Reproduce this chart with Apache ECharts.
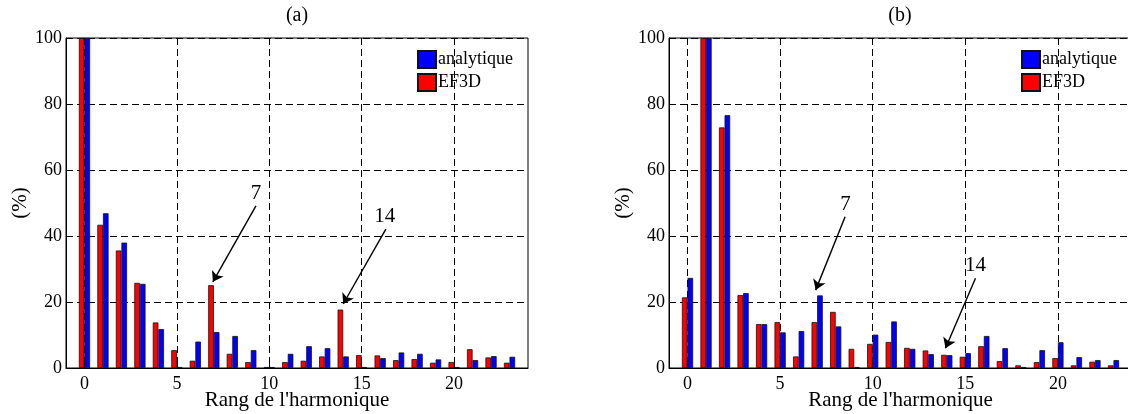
<!DOCTYPE html>
<html><head><meta charset="utf-8">
<script src="https://cdn.jsdelivr.net/npm/echarts@6/dist/echarts.min.js"></script>
<style>html,body{margin:0;padding:0;background:#fff}#c{width:1128px;height:414px}</style>
</head><body><div id="c"></div>
<script>
// ---------- data ----------
const harmonics = [0,1,2,3,4,5,6,7,8,9,10,11,12,13,14,15,16,17,18,19,20,21,22,23];
const xTicks = [0,5,10,15,20];
const yMin = 0, yMax = 100, yStep = 20;
const xMin = -1, xMax = 24;
const panelTitles = ['(a)', '(b)'];
const seriesNames = ['analytique', 'EF3D'];
const xName = "Rang de l'harmonique";
const yName = '(%)';

// panel (a)
const aEF3D       = [100,43.4,35.6,25.8,13.8,5.4,2.2,25.1,4.3,1.8,0.3,1.8,2.2,3.5,17.7,3.9,3.8,2.4,2.7,1.6,1.8,5.7,3.2,1.6];
const aAnalytique = [100,46.9,38.0,25.5,11.8,0.3,8.0,10.9,9.7,5.4,0.3,4.3,6.6,6.0,3.5,0.3,3.0,4.7,4.3,2.6,0.3,2.4,3.6,3.4];
// panel (b)
const bEF3D       = [21.4,100,72.9,22.1,13.3,13.9,3.5,13.9,17.0,5.8,7.3,7.9,6.1,5.3,4.0,3.4,6.6,2.1,0.8,1.8,3.0,0.8,1.9,0.8];
const bAnalytique = [27.3,100,76.6,22.7,13.3,10.8,11.2,22.0,12.6,0.3,10.1,14.1,5.8,4.2,3.9,4.5,9.7,6.0,0.3,5.4,7.8,3.3,2.4,2.4];

// annotations: label, text anchor [x,y], arrow start [x,y], arrow tip [x,y] (data units)
const aNoteLabels = ['7', '14'];
const aNoteText   = [[9.43, 53.0], [16.4, 45.8]];
const aNoteFrom   = [[9.43, 49.1], [16.46, 42.1]];
const aNoteTo     = [[7.1, 26.1], [14.15, 19.4]];
const bNoteLabels = ['7', '14'];
const bNoteText   = [[8.68, 49.4], [15.7, 31.2]];
const bNoteFrom   = [[8.66, 45.8], [15.7, 27.2]];
const bNoteTo     = [[7.07, 23.6], [14.08, 6.0]];

// ---------- styles ----------
const FONT = 'Liberation Serif';
const RED = '#ff0000', BLUE = '#0000ff';
const grids = [
  {left: 66, right: 600, top: 38, bottom: 46},
  {left: 669, right: -4, top: 38, bottom: 46}
];

function xAxisFor(i) {
  return {
    type: 'value', gridIndex: i, min: xMin, max: xMax,
    name: xName, nameLocation: 'middle', nameGap: 22, nameMoveOverlap: false,
    nameTextStyle: {fontFamily: FONT, fontSize: 21, color: '#000'},
    axisLine: {show: true, onZero: false, lineStyle: {color: '#000', width: 1}},
    axisTick: {show: true, inside: true, length: 4, customValues: xTicks, lineStyle: {color: '#000'}},
    axisLabel: {customValues: xTicks, fontFamily: FONT, fontSize: 18, color: '#000', margin: 7},
    splitLine: {show: true, lineStyle: {color: '#000', type: [7, 4], width: 1}}
  };
}
function yAxisFor(i) {
  return {
    type: 'value', gridIndex: i, min: yMin, max: yMax, interval: yStep,
    name: yName, nameLocation: 'middle', nameGap: 35, nameRotate: 90, nameMoveOverlap: false,
    nameTextStyle: {fontFamily: FONT, fontSize: 21, color: '#000'},
    axisLine: {show: true, onZero: false, lineStyle: {color: '#000', width: 1}},
    axisTick: {show: true, inside: true, length: 4, lineStyle: {color: '#000'}},
    axisLabel: {fontFamily: FONT, fontSize: 18, color: '#000', margin: 4},
    splitLine: {show: true, lineStyle: {color: '#000', type: [7, 4], width: 1}}
  };
}
function pairs(vals) { return harmonics.map((h, k) => [h, vals[k]]); }
function notes(labels, txt, from, to) {
  return {
    markLine: {
      silent: true, symbol: ['none', 'arrow'], symbolSize: 10,
      label: {show: false},
      lineStyle: {color: '#000', width: 1.4, type: 'solid'},
      data: from.map((f, k) => [{coord: f}, {coord: to[k]}])
    },
    markPoint: {
      silent: true, symbol: 'rect', symbolSize: 1,
      itemStyle: {color: 'rgba(0,0,0,0)'},
      label: {show: true, position: 'inside', fontFamily: FONT, fontSize: 21, color: '#000',
              formatter: p => p.name},
      data: txt.map((t, k) => ({name: labels[k], coord: t}))
    }
  };
}
function barSeries(i, name, vals, color, extra) {
  return Object.assign({
    type: 'bar', name: name, xAxisIndex: i, yAxisIndex: i,
    data: pairs(vals), barWidth: 5.6, barGap: '0%',
    itemStyle: {color: color, borderColor: '#111', borderWidth: 0.8},
    emphasis: {disabled: true}
  }, extra || {});
}

const chart = echarts.init(document.getElementById('c'), null, {renderer: 'canvas'});
chart.setOption({
  animation: false,
  backgroundColor: '#fff',
  textStyle: {fontFamily: FONT},
  title: panelTitles.map((t, i) => ({
    text: t, left: [297, 900][i], top: 6, textAlign: 'center', padding: 0,
    textStyle: {fontFamily: FONT, fontSize: 20, fontWeight: 'normal', color: '#000'}
  })),
  legend: [0, 1].map(i => ({
    orient: 'vertical', left: [417, 1021][i], top: 50, padding: 0,
    itemWidth: 18, itemHeight: 17, itemGap: 4, icon: 'rect',
    data: seriesNames, selectedMode: false,
    textStyle: {fontFamily: FONT, fontSize: 18, color: '#000', padding: [0, 0, 0, -3]}
  })),
  grid: grids.map(g => Object.assign({show: true, borderColor: '#000', borderWidth: 1,
    backgroundColor: 'transparent', containLabel: false, outerBoundsMode: 'none'}, g)),
  xAxis: [xAxisFor(0), xAxisFor(1)],
  yAxis: [yAxisFor(0), yAxisFor(1)],
  series: [
    barSeries(0, 'EF3D', aEF3D, RED, notes(aNoteLabels, aNoteText, aNoteFrom, aNoteTo)),
    barSeries(0, 'analytique', aAnalytique, BLUE),
    barSeries(1, 'EF3D', bEF3D, RED, notes(bNoteLabels, bNoteText, bNoteFrom, bNoteTo)),
    barSeries(1, 'analytique', bAnalytique, BLUE)
  ]
});
</script>
</body></html>
